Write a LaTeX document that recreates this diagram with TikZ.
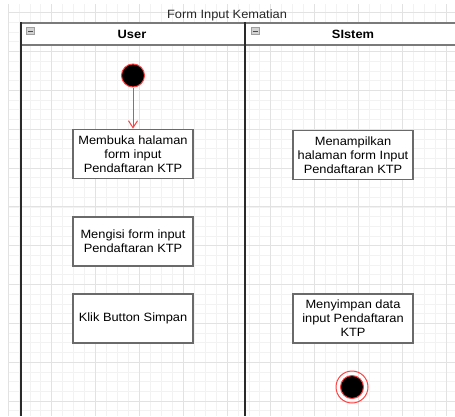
\documentclass[tikz,border=0pt]{standalone}
\usepackage{fontspec}
\setmainfont{Liberation Sans}[FakeStretch=1.07]
\usetikzlibrary{arrows.meta}
\definecolor{gridminor}{HTML}{F2F2F2}
\definecolor{gridmajor}{HTML}{E2E2E2}
\definecolor{boxline}{HTML}{6A6A6A}
\definecolor{hdrline}{HTML}{7A7A7A}
\definecolor{laneline}{HTML}{2A2A2A}
\definecolor{flowred}{HTML}{FF4040}
\tikzset{
  actbox/.style={draw=boxline, line width=1.3pt, fill=white, minimum width=120pt, minimum height=49pt, inner sep=0pt, align=center, font=\fontsize{12}{14}\selectfont},
  lanetitle/.style={font=\fontsize{12}{14}\selectfont\bfseries},
  startdot/.style={circle, fill=black, draw=flowred, line width=1pt, minimum size=23pt, inner sep=0pt},
  enddot/.style={circle, fill=black, draw=flowred, line width=1pt, minimum size=23pt, inner sep=0pt},
  endring/.style={circle, draw=flowred, line width=1pt, minimum size=32pt, inner sep=0pt},
  flow/.style={draw=flowred, line width=1pt, -{Straight Barb[length=7pt,width=9pt]}},
  iconbox/.style={fill=gray!35, draw=gray!75, line width=0.6pt}
}
\begin{document}
\begin{tikzpicture}[x=1pt,y=-1pt]
\useasboundingbox (0,0) rectangle (455,416);
% background grid
\begin{scope}
\clip (8,4) rectangle (455,416);
\foreach \i in {0,...,41} {
  \pgfmathsetmacro\xx{8+10.95*\i}
  \draw[gridminor, line width=0.8pt] (\xx,4) -- (\xx,416);
}
\foreach \i in {-1,...,42} {
  \pgfmathsetmacro\yy{12.7+9.71*\i}
  \draw[gridminor, line width=0.8pt] (8,\yy) -- (455,\yy);
}
\foreach \i in {0,...,10} {
  \pgfmathsetmacro\xx{8+43.8*\i}
  \draw[gridmajor, line width=1pt] (\xx,4) -- (\xx,416);
}
\foreach \i in {0,...,10} {
  \pgfmathsetmacro\yy{12.7+38.83*\i}
  \draw[gridmajor, line width=1pt] (8,\yy) -- (455,\yy);
}
\end{scope}
% title
\node[font=\fontsize{12}{14}\selectfont, text=black!85] (title) at (227,15) {Form Input Kematian};
% pool header
\fill[white] (21,23) rectangle (455,45);
\draw[hdrline, line width=1.8pt] (21,23) -- (455,23);
\draw[hdrline, line width=1.8pt] (21,45) -- (455,45);
\draw[laneline, line width=1.6pt] (21,22.2) -- (21,416);
\draw[laneline, line width=2pt] (245,22.2) -- (245,416);
% collapse icons
\draw[iconbox] (26.5,27.5) rectangle (34.5,34.5);
\draw[black!70, line width=1pt] (28,31) -- (33,31);
\draw[iconbox] (251,27.5) rectangle (259,34.5);
\draw[black!70, line width=1pt] (252.5,31) -- (257.5,31);
% lane titles
\node[lanetitle] (user) at (132,34) {User};
\node[lanetitle] (sistem) at (353,34) {SIstem};
% activities
\node[startdot] (start) at (133,75.5) {};
\node[actbox] (b1) at (133,153.8) {Membuka halaman\\form input\\Pendaftaran KTP};
\node[actbox] (r1) at (353,155) {Menampilkan\\halaman form Input\\Pendaftaran KTP};
\node[actbox] (b2) at (133,241.5) {Mengisi form input\\Pendaftaran KTP};
\node[actbox] (b3) at (133,318.5) {Klik Button Simpan};
\node[actbox] (r3) at (353,318.5) {Menyimpan data\\input Pendaftaran\\KTP};
\node[endring] (endo) at (352,387) {};
\node[enddot] (endi) at (352,387) {};
% connector
\draw[flow] (start) -- (b1);
\end{tikzpicture}
\end{document}
